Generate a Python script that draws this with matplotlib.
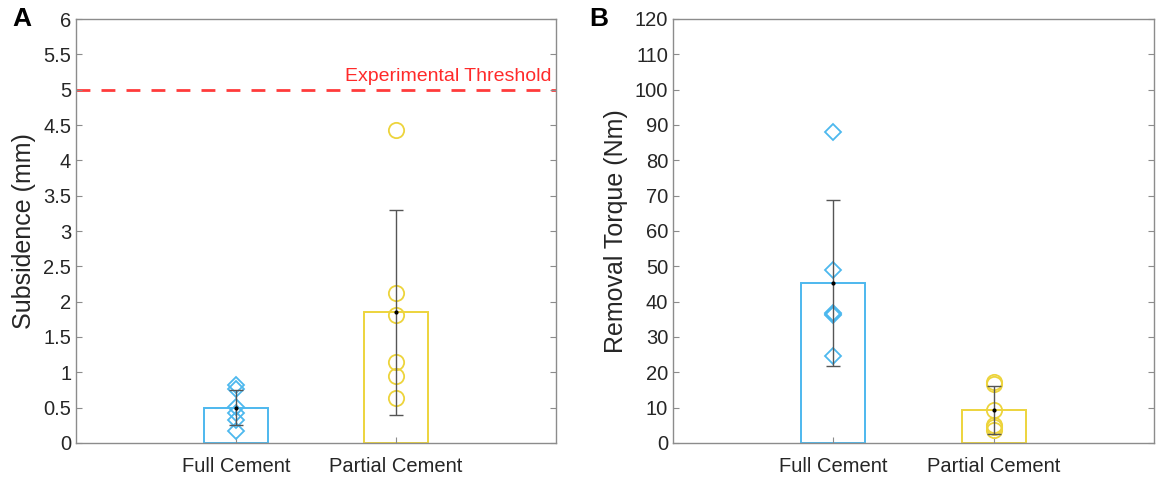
import numpy as np
import matplotlib.pyplot as plt

plt.rcParams['font.family'] = ['Liberation Sans', 'DejaVu Sans']

groups = ['Full Cement', 'Partial Cement']

# subsidence (mm)
sub_full = [0.82, 0.76, 0.51, 0.42, 0.33, 0.17]
sub_partial = [4.43, 2.12, 1.81, 1.15, 0.95, 0.64]
sub_mean = [0.50, 1.85]
sub_err = [0.25, 1.45]
threshold = 5

# removal torque (Nm)
tor_full = [88.0, 49.0, 36.2, 36.5, 36.8, 24.6]
tor_partial = [17.2, 16.6, 9.4, 5.2, 4.4, 3.6]
tor_mean = [45.2, 9.3]
tor_err = [23.5, 6.8]

blue = '#4DB8EE'
yellow = '#EDD43C'
spine = '#8C8C8C'
colors = [blue, yellow]
markers = ['D', 'o']


def panel(ax, pts, means, errs, ymax, ystep, ylabel):
    x = np.arange(1, len(groups) + 1)
    ax.bar(x, means, width=0.4, facecolor='none', edgecolor=colors, linewidth=1.4)
    for i, p in enumerate(pts):
        ms = 8 if markers[i] == 'D' else 11
        ax.plot([x[i]] * len(p), p, linestyle='none', marker=markers[i], ms=ms,
                mfc='none', mec=colors[i], mew=1.3, zorder=3)
    ax.errorbar(x, means, yerr=errs, fmt='none', ecolor='#555555', elinewidth=1.0,
                capsize=5, capthick=1.0, zorder=4)
    ax.plot(x, means, 'k.', ms=4, zorder=5)
    ax.set_xlim(0, 3)
    ax.set_ylim(0, ymax)
    ticks = np.arange(0, ymax + ystep / 2, ystep)
    ax.set_yticks(ticks)
    ax.set_yticklabels(['%g' % v for v in ticks])
    ax.set_xticks(x)
    ax.set_xticklabels(groups)
    ax.tick_params(direction='in', length=4, colors=spine, labelcolor='#262626',
                   labelsize=14.5, right=True, top=False)
    ax.tick_params(axis='x', pad=10)
    for s in ax.spines.values():
        s.set_color(spine)
        s.set_linewidth(1.0)
    ax.set_ylabel(ylabel, fontsize=18, color='#262626', labelpad=5)


fig = plt.figure(figsize=(11.6, 4.79), dpi=100)
axA = fig.add_axes([76 / 1160, 36 / 479, 480 / 1160, 424 / 479])
axB = fig.add_axes([673 / 1160, 36 / 479, 481 / 1160, 424 / 479])

panel(axA, [sub_full, sub_partial], sub_mean, sub_err, 6, 0.5, 'Subsidence (mm)')
axA.axhline(threshold, color='#FF3B3B', linestyle=(0, (5, 4)), linewidth=2.0, zorder=1)
axA.text(2.97, threshold + 0.07, 'Experimental Threshold', color='#FF2A2A',
         fontsize=14, ha='right', va='bottom')

panel(axB, [tor_full, tor_partial], tor_mean, tor_err, 120, 10, 'Removal Torque (Nm)')

fig.text(12 / 1160, 1 - 19 / 479, 'A', fontsize=19, fontweight='bold', va='center')
fig.text(589 / 1160, 1 - 19 / 479, 'B', fontsize=19, fontweight='bold', va='center')

fig.savefig('out.png', dpi=100)
